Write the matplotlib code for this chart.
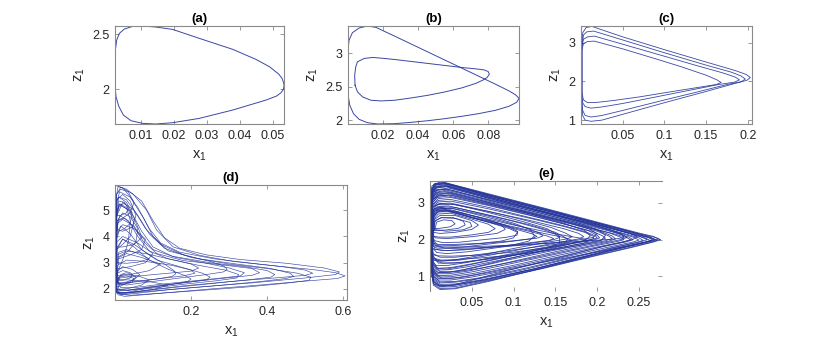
import matplotlib
matplotlib.use("Agg")
import matplotlib.pyplot as plt
from matplotlib.ticker import FuncFormatter

plt.rcParams['font.family'] = ['Liberation Sans', 'DejaVu Sans']
plt.rcParams['mathtext.default'] = 'regular'

# (a) period-1 cycle, one closed loop of (x1, z1) points
loop_a = [(0.0024, 2.0), (0.0023, 2.206), (0.0024, 2.358), (0.0028, 2.448), (0.0036, 2.509),
          (0.0051, 2.548), (0.0076, 2.573), (0.0106, 2.576), (0.0146, 2.567), (0.0197, 2.545),
          (0.0277, 2.464), (0.0378, 2.364), (0.0448, 2.273), (0.0489, 2.206), (0.0517, 2.139),
          (0.0527, 2.1), (0.0532, 2.06), (0.0533, 2.03), (0.0531, 2.0), (0.0524, 1.97), (0.0511, 1.94),
          (0.0479, 1.903), (0.0378, 1.812), (0.0277, 1.736), (0.0197, 1.697), (0.0146, 1.685),
          (0.0106, 1.691), (0.0071, 1.715), (0.0048, 1.767), (0.0034, 1.848), (0.0026, 1.933),
          (0.0024, 2.0)]

# (b) period-2 cycle, outer and inner loop
loop_b_outer = [(0.0002, 2.35), (0.0, 2.75), (0.0, 3.05), (0.0006, 3.2), (0.0025, 3.31), (0.0063, 3.38),
                (0.0111, 3.41), (0.0159, 3.39), (0.0265, 3.26), (0.0361, 3.14), (0.0457, 3.02),
                (0.0553, 2.9), (0.0649, 2.78), (0.0745, 2.66), (0.0841, 2.54), (0.0918, 2.44),
                (0.0956, 2.38), (0.0975, 2.33), (0.0962, 2.27), (0.0918, 2.21), (0.0841, 2.15),
                (0.0745, 2.1), (0.0649, 2.06), (0.0553, 2.025), (0.0457, 1.995), (0.0361, 1.97),
                (0.0265, 1.95), (0.0169, 1.945), (0.0111, 1.965), (0.0063, 2.015), (0.0031, 2.1),
                (0.001, 2.225), (0.0002, 2.35)]
loop_b_inner = [(0.004, 2.525), (0.0038, 2.675), (0.0044, 2.8), (0.0054, 2.875), (0.0092, 2.925),
                (0.014, 2.94), (0.0188, 2.93), (0.0265, 2.91), (0.0361, 2.88), (0.0457, 2.85),
                (0.0553, 2.82), (0.0649, 2.79), (0.0726, 2.77), (0.0774, 2.755), (0.0799, 2.73),
                (0.0806, 2.69), (0.0793, 2.64), (0.0768, 2.6), (0.0726, 2.55), (0.0649, 2.485),
                (0.0553, 2.425), (0.0457, 2.375), (0.0361, 2.335), (0.0265, 2.3), (0.0188, 2.29),
                (0.0131, 2.3), (0.0083, 2.35), (0.0054, 2.425), (0.004, 2.525)]

# (c) four-band cycle
loops_c = [
    [(0.001, 1.4), (0.001, 2.9), (0.002, 3.25), (0.006, 3.39), (0.013, 3.42), (0.05, 3.15), (0.1, 2.82),
     (0.15, 2.5), (0.185, 2.28), (0.198, 2.18), (0.203, 2.1), (0.199, 2.03), (0.185, 1.95), (0.15, 1.74),
     (0.1, 1.45), (0.05, 1.15), (0.025, 1.0), (0.012, 0.97), (0.005, 1.0), (0.002, 1.12), (0.001, 1.4)],
    [(0.001, 1.5), (0.001, 2.9), (0.003, 3.2), (0.007, 3.28), (0.015, 3.3), (0.05, 3.07), (0.1, 2.74),
     (0.15, 2.42), (0.18, 2.24), (0.192, 2.14), (0.197, 2.06), (0.192, 1.99), (0.175, 1.92), (0.14, 1.73),
     (0.1, 1.52), (0.05, 1.25), (0.025, 1.12), (0.012, 1.08), (0.005, 1.12), (0.002, 1.25), (0.001, 1.5)],
    [(0.001, 1.6), (0.001, 2.9), (0.003, 3.09), (0.008, 3.15), (0.016, 3.17), (0.05, 2.96), (0.1, 2.65),
     (0.14, 2.4), (0.17, 2.22), (0.185, 2.11), (0.19, 2.04), (0.184, 1.98), (0.165, 1.92), (0.13, 1.77),
     (0.09, 1.6), (0.05, 1.43), (0.025, 1.34), (0.012, 1.31), (0.005, 1.35), (0.002, 1.45), (0.001, 1.6)],
    [(0.001, 1.7), (0.001, 2.8), (0.003, 2.98), (0.008, 3.03), (0.016, 3.04), (0.05, 2.84), (0.09, 2.58),
     (0.12, 2.38), (0.15, 2.16), (0.163, 2.04), (0.168, 1.97), (0.162, 1.92), (0.145, 1.86), (0.11, 1.74),
     (0.07, 1.6), (0.04, 1.51), (0.02, 1.46), (0.008, 1.45), (0.003, 1.52), (0.001, 1.7)],
]

# (d) chaotic, large excursions plus small loops near x1 = 0
loops_d = [
    [(0.002, 2.2), (0.002, 4.5), (0.004, 5.6), (0.015, 5.88), (0.047, 5.62), (0.083, 5.0), (0.109, 4.25),
     (0.153, 3.6), (0.223, 3.28), (0.31, 3.05), (0.42, 2.88), (0.52, 2.74), (0.58, 2.62), (0.605, 2.5),
     (0.585, 2.4), (0.5, 2.3), (0.38, 2.15), (0.25, 2.0), (0.13, 1.85), (0.06, 1.76), (0.025, 1.72),
     (0.008, 1.78), (0.003, 1.95), (0.002, 2.2)],
    [(0.0, 3.5), (0.0, 5.95), (0.03, 5.8), (0.07, 5.35), (0.1, 4.6), (0.13, 3.95), (0.17, 3.55), (0.24, 3.3),
     (0.33, 3.12), (0.45, 2.98), (0.55, 2.8), (0.59, 2.65), (0.58, 2.55), (0.5, 2.42), (0.35, 2.22),
     (0.2, 2.05), (0.08, 1.9), (0.02, 1.82), (0.003, 1.9), (0.0, 3.5)],
    [(0.002, 2.5), (0.003, 5.0), (0.01, 5.5), (0.03, 5.4), (0.06, 4.8), (0.09, 4.1), (0.13, 3.55), (0.2, 3.2),
     (0.3, 2.95), (0.4, 2.78), (0.48, 2.6), (0.515, 2.45), (0.51, 2.33), (0.45, 2.22), (0.35, 2.08),
     (0.22, 1.94), (0.1, 1.82), (0.04, 1.76), (0.012, 1.8), (0.004, 2.0), (0.002, 2.5)],
    [(0.002, 1.9), (0.003, 5.5), (0.008, 5.9), (0.02, 5.85), (0.035, 5.6), (0.06, 5.1), (0.09, 4.3),
     (0.12, 3.75), (0.17, 3.4), (0.26, 3.15), (0.36, 2.98), (0.44, 2.85), (0.5, 2.72), (0.52, 2.6),
     (0.5, 2.52), (0.42, 2.42), (0.3, 2.28), (0.18, 2.12), (0.08, 1.95), (0.03, 1.85), (0.008, 1.86),
     (0.002, 1.9)],
    [(0.002, 2.1), (0.003, 5.2), (0.012, 5.7), (0.04, 5.5), (0.075, 4.7), (0.1, 4.0), (0.14, 3.45),
     (0.22, 3.15), (0.32, 2.95), (0.41, 2.78), (0.46, 2.6), (0.47, 2.48), (0.45, 2.4), (0.38, 2.28),
     (0.26, 2.12), (0.14, 1.97), (0.06, 1.84), (0.02, 1.78), (0.006, 1.85), (0.002, 2.1)],
    [(0.002, 2.3), (0.003, 4.6), (0.01, 5.2), (0.04, 5.0), (0.07, 4.2), (0.1, 3.6), (0.15, 3.25), (0.25, 3.0),
     (0.34, 2.85), (0.4, 2.7), (0.42, 2.55), (0.41, 2.45), (0.35, 2.35), (0.25, 2.2), (0.15, 2.05),
     (0.07, 1.92), (0.025, 1.85), (0.008, 1.9), (0.002, 2.3)],
    [(0.002, 2.0), (0.003, 4.0), (0.008, 4.6), (0.025, 4.7), (0.05, 4.35), (0.075, 3.8), (0.11, 3.35),
     (0.18, 3.08), (0.28, 2.92), (0.36, 2.78), (0.38, 2.62), (0.36, 2.52), (0.28, 2.4), (0.18, 2.24),
     (0.09, 2.08), (0.035, 1.96), (0.01, 1.95), (0.002, 2.0)],
    [(0.003, 2.4), (0.004, 4.9), (0.01, 5.35), (0.025, 5.3), (0.05, 4.7), (0.07, 4.0), (0.1, 3.5),
     (0.16, 3.2), (0.24, 2.98), (0.3, 2.8), (0.34, 2.62), (0.33, 2.5), (0.28, 2.42), (0.2, 2.3),
     (0.12, 2.18), (0.05, 2.05), (0.015, 2.05), (0.003, 2.4)],
    [(0.003, 2.6), (0.004, 4.2), (0.012, 4.8), (0.035, 4.6), (0.06, 4.0), (0.09, 3.45), (0.14, 3.15),
     (0.22, 2.9), (0.29, 2.72), (0.325, 2.55), (0.32, 2.42), (0.27, 2.32), (0.18, 2.18), (0.09, 2.02),
     (0.035, 1.95), (0.01, 2.0), (0.003, 2.6)],
    [(0.003, 3.0), (0.005, 4.8), (0.02, 5.3), (0.05, 5.0), (0.08, 4.3), (0.12, 3.7), (0.18, 3.3),
     (0.25, 3.05), (0.285, 2.88), (0.295, 2.75), (0.285, 2.65), (0.24, 2.55), (0.16, 2.4), (0.08, 2.25),
     (0.03, 2.15), (0.01, 2.2), (0.003, 3.0)],
    [(0.003, 2.2), (0.004, 3.9), (0.015, 4.4), (0.04, 4.1), (0.07, 3.5), (0.11, 3.1), (0.17, 2.85),
     (0.23, 2.6), (0.25, 2.45), (0.24, 2.35), (0.19, 2.25), (0.12, 2.12), (0.06, 2.0), (0.02, 1.93),
     (0.005, 2.0), (0.003, 2.2)],
    [(0.003, 2.0), (0.005, 3.5), (0.02, 3.9), (0.05, 3.6), (0.09, 3.1), (0.14, 2.75), (0.185, 2.5),
     (0.2, 2.38), (0.19, 2.28), (0.15, 2.18), (0.09, 2.05), (0.04, 1.9), (0.012, 1.82), (0.004, 1.9),
     (0.003, 2.0)],
    [(0.004, 2.4), (0.006, 3.6), (0.02, 3.9), (0.05, 3.7), (0.09, 3.3), (0.13, 2.95), (0.155, 2.7),
     (0.16, 2.58), (0.15, 2.48), (0.11, 2.38), (0.06, 2.28), (0.025, 2.22), (0.008, 2.25), (0.004, 2.4)],
    [(0.003, 2.4), (0.005, 3.3), (0.03, 3.45), (0.08, 3.35), (0.14, 3.15), (0.2, 2.95), (0.22, 2.8),
     (0.2, 2.68), (0.14, 2.6), (0.08, 2.52), (0.03, 2.45), (0.003, 2.4)],
    [(0.004, 2.2), (0.006, 2.9), (0.03, 3.1), (0.08, 3.05), (0.15, 2.9), (0.2, 2.72), (0.21, 2.6),
     (0.18, 2.5), (0.12, 2.4), (0.06, 2.3), (0.02, 2.22), (0.004, 2.2)],
    [(0.002, 4.0), (0.002, 5.3), (0.01, 5.5), (0.03, 5.3), (0.045, 4.9), (0.04, 4.5), (0.025, 4.3),
     (0.01, 4.2), (0.002, 4.0)],
    [(0.003, 3.5), (0.005, 5.0), (0.015, 5.2), (0.035, 5.0), (0.05, 4.6), (0.04, 4.0), (0.02, 3.7),
     (0.008, 3.55), (0.003, 3.5)],
    [(0.002, 4.4), (0.004, 5.4), (0.02, 5.6), (0.04, 5.35), (0.055, 4.8), (0.045, 4.35), (0.02, 4.2),
     (0.006, 4.25), (0.002, 4.4)],
    [(0.002, 2.6), (0.003, 4.9), (0.012, 5.25), (0.03, 5.1), (0.04, 4.6), (0.035, 3.8), (0.02, 3.1),
     (0.008, 2.7), (0.002, 2.6)],
    [(0.004, 3.2), (0.006, 4.6), (0.02, 4.9), (0.04, 4.75), (0.06, 4.3), (0.055, 3.8), (0.035, 3.45),
     (0.012, 3.25), (0.004, 3.2)],
    [(0.003, 4.6), (0.004, 5.6), (0.015, 5.8), (0.035, 5.7), (0.05, 5.3), (0.04, 4.9), (0.02, 4.7),
     (0.003, 4.6)],
    [(0.005, 4.8), (0.01, 5.2), (0.025, 5.25), (0.035, 5.1), (0.03, 4.9), (0.015, 4.8), (0.005, 4.8)],
    [(0.003, 3.6), (0.006, 4.5), (0.02, 4.65), (0.05, 4.4), (0.07, 3.95), (0.05, 3.7), (0.02, 3.6),
     (0.003, 3.6)],
    [(0.003, 2.8), (0.005, 3.8), (0.02, 4.0), (0.06, 3.75), (0.1, 3.35), (0.08, 3.0), (0.04, 2.85),
     (0.01, 2.78), (0.003, 2.8)],
    [(0.003, 3.1), (0.005, 4.2), (0.02, 4.45), (0.05, 4.3), (0.08, 3.9), (0.07, 3.5), (0.04, 3.3),
     (0.01, 3.15), (0.003, 3.1)],
    [(0.006, 3.0), (0.01, 3.4), (0.03, 3.5), (0.06, 3.35), (0.09, 3.15), (0.06, 3.02), (0.03, 2.98),
     (0.006, 3.0)],
    [(0.005, 2.5), (0.01, 3.2), (0.03, 3.35), (0.07, 3.2), (0.12, 2.95), (0.09, 2.7), (0.04, 2.55),
     (0.005, 2.5)],
    [(0.005, 2.3), (0.008, 2.7), (0.02, 2.85), (0.045, 2.75), (0.065, 2.55), (0.05, 2.35), (0.025, 2.25),
     (0.01, 2.2), (0.005, 2.3)],
    [(0.004, 2.1), (0.006, 2.6), (0.02, 2.7), (0.04, 2.62), (0.055, 2.45), (0.04, 2.28), (0.02, 2.15),
     (0.008, 2.08), (0.004, 2.1)],
    [(0.003, 2.0), (0.005, 2.4), (0.02, 2.55), (0.06, 2.5), (0.09, 2.35), (0.07, 2.15), (0.035, 2.02),
     (0.01, 1.98), (0.003, 2.0)],
    [(0.004, 2.15), (0.01, 2.45), (0.03, 2.5), (0.05, 2.4), (0.045, 2.25), (0.025, 2.18), (0.004, 2.15)],
    [(0.003, 1.85), (0.004, 2.3), (0.03, 2.35), (0.09, 2.28), (0.14, 2.15), (0.1, 1.98), (0.04, 1.86),
     (0.003, 1.85)],
    [(0.01, 2.35), (0.015, 2.55), (0.03, 2.62), (0.045, 2.55), (0.04, 2.42), (0.025, 2.36), (0.01, 2.35)],
]

# (e) chaotic attractor, nested loops
loops_e = [
    [(0.002, 1.2), (0.002, 3.3), (0.005, 3.5), (0.015, 3.56), (0.07, 3.23), (0.14, 2.82), (0.2, 2.46),
     (0.25, 2.16), (0.268, 2.07), (0.276, 2.0), (0.268, 1.94), (0.24, 1.78), (0.2, 1.57), (0.14, 1.24),
     (0.07, 0.88), (0.03, 0.68), (0.012, 0.67), (0.004, 0.8), (0.002, 1.2)],
    [(0.002, 1.1), (0.002, 3.35), (0.005, 3.52), (0.014, 3.58), (0.07, 3.25), (0.14, 2.84), (0.2, 2.48),
     (0.25, 2.18), (0.267, 2.09), (0.274, 2.02), (0.266, 1.96), (0.235, 1.8), (0.19, 1.55), (0.13, 1.2),
     (0.07, 0.86), (0.03, 0.66), (0.012, 0.64), (0.004, 0.76), (0.002, 1.1)],
    [(0.002, 1.3), (0.002, 3.25), (0.006, 3.45), (0.018, 3.5), (0.07, 3.19), (0.14, 2.79), (0.2, 2.43),
     (0.25, 2.13), (0.265, 2.05), (0.272, 1.98), (0.263, 1.92), (0.235, 1.77), (0.19, 1.53), (0.13, 1.2),
     (0.07, 0.9), (0.03, 0.72), (0.012, 0.71), (0.004, 0.85), (0.002, 1.3)],
    [(0.002, 1.9), (0.002, 3.45), (0.006, 3.53), (0.018, 3.55), (0.07, 3.23), (0.13, 2.88), (0.19, 2.52),
     (0.24, 2.22), (0.262, 2.08), (0.27, 2.0), (0.262, 1.95), (0.235, 1.82), (0.19, 1.62), (0.13, 1.36),
     (0.07, 1.1), (0.035, 0.96), (0.014, 0.95), (0.004, 1.1), (0.002, 1.9)],
    [(0.002, 1.2), (0.002, 3.4), (0.006, 3.5), (0.016, 3.54), (0.07, 3.22), (0.14, 2.8), (0.2, 2.45),
     (0.245, 2.18), (0.262, 2.06), (0.266, 1.99), (0.256, 1.93), (0.225, 1.78), (0.18, 1.52), (0.12, 1.18),
     (0.065, 0.9), (0.03, 0.76), (0.012, 0.75), (0.004, 0.88), (0.002, 1.2)],
    [(0.002, 1.4), (0.003, 3.3), (0.006, 3.48), (0.017, 3.53), (0.07, 3.2), (0.13, 2.84), (0.19, 2.48),
     (0.235, 2.2), (0.252, 2.08), (0.26, 2.0), (0.252, 1.94), (0.22, 1.78), (0.17, 1.5), (0.11, 1.17),
     (0.06, 0.94), (0.03, 0.84), (0.012, 0.82), (0.004, 0.95), (0.002, 1.4)],
    [(0.002, 1.5), (0.003, 3.2), (0.007, 3.4), (0.02, 3.46), (0.07, 3.16), (0.14, 2.75), (0.2, 2.4),
     (0.24, 2.16), (0.258, 2.04), (0.264, 1.97), (0.255, 1.91), (0.225, 1.76), (0.18, 1.5), (0.12, 1.18),
     (0.06, 0.9), (0.03, 0.79), (0.012, 0.78), (0.004, 0.92), (0.002, 1.5)],
    [(0.002, 1.5), (0.003, 3.25), (0.007, 3.43), (0.018, 3.48), (0.07, 3.17), (0.13, 2.8), (0.18, 2.5),
     (0.225, 2.2), (0.243, 2.07), (0.25, 1.99), (0.242, 1.93), (0.21, 1.78), (0.16, 1.52), (0.1, 1.2),
     (0.05, 0.98), (0.025, 0.9), (0.01, 0.9), (0.003, 1.02), (0.002, 1.5)],
    [(0.002, 1.0), (0.003, 3.4), (0.007, 3.5), (0.02, 3.52), (0.07, 3.2), (0.13, 2.84), (0.18, 2.55),
     (0.22, 2.3), (0.24, 2.16), (0.248, 2.08), (0.242, 2.0), (0.215, 1.86), (0.17, 1.6), (0.12, 1.32),
     (0.07, 1.02), (0.035, 0.8), (0.015, 0.72), (0.005, 0.78), (0.002, 1.0)],
    [(0.002, 1.9), (0.003, 3.3), (0.008, 3.42), (0.02, 3.44), (0.07, 3.13), (0.12, 2.83), (0.17, 2.53),
     (0.21, 2.28), (0.23, 2.14), (0.236, 2.06), (0.228, 2.0), (0.2, 1.87), (0.16, 1.68), (0.11, 1.44),
     (0.06, 1.22), (0.03, 1.12), (0.012, 1.13), (0.004, 1.3), (0.002, 1.9)],
    [(0.002, 2.0), (0.003, 3.35), (0.008, 3.45), (0.02, 3.46), (0.07, 3.15), (0.13, 2.8), (0.18, 2.5),
     (0.215, 2.28), (0.23, 2.14), (0.232, 2.06), (0.222, 2.02), (0.19, 1.97), (0.14, 1.9), (0.09, 1.84),
     (0.04, 1.8), (0.015, 1.8), (0.004, 1.86), (0.002, 2.0)],
    [(0.002, 1.6), (0.003, 3.15), (0.008, 3.36), (0.022, 3.41), (0.07, 3.13), (0.14, 2.72), (0.19, 2.42),
     (0.235, 2.15), (0.25, 2.05), (0.255, 1.98), (0.246, 1.92), (0.215, 1.77), (0.17, 1.52), (0.11, 1.2),
     (0.06, 0.96), (0.03, 0.86), (0.012, 0.85), (0.004, 1.0), (0.002, 1.6)],
    [(0.002, 1.3), (0.003, 3.2), (0.008, 3.34), (0.02, 3.38), (0.07, 3.1), (0.14, 2.72), (0.2, 2.4),
     (0.245, 2.14), (0.262, 2.05), (0.268, 2.0), (0.26, 1.94), (0.23, 1.78), (0.185, 1.54), (0.125, 1.2),
     (0.065, 0.9), (0.03, 0.76), (0.012, 0.74), (0.004, 0.86), (0.002, 1.3)],
    [(0.002, 1.45), (0.003, 3.28), (0.008, 3.36), (0.022, 3.37), (0.07, 3.08), (0.13, 2.74), (0.175, 2.47),
     (0.2, 2.28), (0.21, 2.12), (0.205, 1.98), (0.18, 1.85), (0.14, 1.7), (0.1, 1.58), (0.06, 1.5),
     (0.025, 1.45), (0.008, 1.44), (0.002, 1.45)],
    [(0.002, 1.5), (0.003, 3.1), (0.008, 3.3), (0.02, 3.35), (0.07, 3.08), (0.13, 2.73), (0.18, 2.44),
     (0.22, 2.2), (0.238, 2.07), (0.243, 2.0), (0.235, 1.94), (0.205, 1.8), (0.16, 1.56), (0.1, 1.26),
     (0.05, 1.03), (0.025, 0.94), (0.01, 0.94), (0.003, 1.08), (0.002, 1.5)],
    [(0.002, 1.6), (0.003, 3.12), (0.008, 3.28), (0.02, 3.32), (0.07, 3.05), (0.13, 2.7), (0.175, 2.44),
     (0.205, 2.22), (0.218, 2.1), (0.222, 2.02), (0.214, 1.96), (0.185, 1.84), (0.14, 1.62), (0.09, 1.36),
     (0.045, 1.14), (0.022, 1.07), (0.008, 1.07), (0.002, 1.2), (0.002, 1.6)],
    [(0.002, 1.85), (0.003, 3.18), (0.01, 3.27), (0.025, 3.28), (0.07, 3.02), (0.12, 2.73), (0.16, 2.5),
     (0.19, 2.3), (0.2, 2.16), (0.195, 2.06), (0.175, 1.98), (0.14, 1.9), (0.1, 1.83), (0.06, 1.78),
     (0.025, 1.76), (0.008, 1.77), (0.002, 1.85)],
    [(0.002, 1.7), (0.003, 3.05), (0.009, 3.24), (0.022, 3.28), (0.07, 3.02), (0.13, 2.68), (0.18, 2.4),
     (0.215, 2.18), (0.228, 2.07), (0.232, 2.0), (0.224, 1.95), (0.195, 1.82), (0.15, 1.6), (0.1, 1.36),
     (0.05, 1.12), (0.025, 1.03), (0.01, 1.02), (0.003, 1.15), (0.002, 1.7)],
    [(0.002, 1.5), (0.003, 3.08), (0.009, 3.22), (0.022, 3.26), (0.07, 3.0), (0.13, 2.66), (0.18, 2.38),
     (0.22, 2.16), (0.235, 2.06), (0.24, 2.0), (0.232, 1.94), (0.2, 1.8), (0.155, 1.58), (0.1, 1.3),
     (0.05, 1.07), (0.025, 0.99), (0.01, 0.98), (0.003, 1.1), (0.002, 1.5)],
    [(0.002, 1.6), (0.003, 3.0), (0.009, 3.18), (0.022, 3.22), (0.07, 2.97), (0.12, 2.7), (0.17, 2.42),
     (0.2, 2.23), (0.214, 2.1), (0.218, 2.03), (0.21, 1.97), (0.18, 1.85), (0.14, 1.67), (0.09, 1.43),
     (0.05, 1.22), (0.025, 1.12), (0.01, 1.1), (0.003, 1.22), (0.002, 1.6)],
    [(0.002, 1.3), (0.003, 3.1), (0.01, 3.2), (0.025, 3.22), (0.07, 2.98), (0.12, 2.7), (0.16, 2.45),
     (0.185, 2.25), (0.192, 2.1), (0.185, 1.98), (0.16, 1.84), (0.12, 1.62), (0.08, 1.4), (0.04, 1.18),
     (0.02, 1.1), (0.006, 1.12), (0.002, 1.3)],
    [(0.002, 1.6), (0.003, 3.02), (0.009, 3.15), (0.022, 3.19), (0.07, 2.95), (0.12, 2.67), (0.165, 2.4),
     (0.195, 2.22), (0.206, 2.11), (0.21, 2.04), (0.203, 1.98), (0.175, 1.87), (0.135, 1.68), (0.09, 1.47),
     (0.045, 1.26), (0.022, 1.18), (0.008, 1.17), (0.002, 1.3), (0.002, 1.6)],
    [(0.002, 1.8), (0.003, 2.95), (0.01, 3.12), (0.025, 3.15), (0.07, 2.93), (0.12, 2.66), (0.16, 2.43),
     (0.19, 2.24), (0.2, 2.12), (0.203, 2.05), (0.196, 1.99), (0.17, 1.89), (0.13, 1.72), (0.09, 1.53),
     (0.05, 1.34), (0.025, 1.24), (0.01, 1.22), (0.003, 1.33), (0.002, 1.8)],
    [(0.002, 1.7), (0.003, 2.95), (0.01, 3.07), (0.024, 3.1), (0.07, 2.88), (0.12, 2.6), (0.16, 2.38),
     (0.188, 2.2), (0.198, 2.1), (0.2, 2.05), (0.193, 2.0), (0.165, 1.9), (0.125, 1.74), (0.085, 1.56),
     (0.045, 1.38), (0.022, 1.3), (0.008, 1.29), (0.002, 1.4), (0.002, 1.7)],
    [(0.002, 1.5), (0.003, 2.9), (0.01, 3.03), (0.025, 3.05), (0.07, 2.84), (0.12, 2.58), (0.16, 2.36),
     (0.185, 2.2), (0.195, 2.1), (0.196, 2.03), (0.188, 1.98), (0.16, 1.86), (0.12, 1.67), (0.08, 1.47),
     (0.04, 1.28), (0.02, 1.2), (0.008, 1.22), (0.002, 1.5)],
    [(0.002, 1.8), (0.003, 2.88), (0.01, 2.98), (0.024, 3.0), (0.07, 2.77), (0.11, 2.55), (0.145, 2.33),
     (0.162, 2.18), (0.17, 2.08), (0.164, 2.02), (0.14, 1.93), (0.1, 1.76), (0.06, 1.57), (0.03, 1.45),
     (0.012, 1.41), (0.003, 1.5), (0.002, 1.8)],
    [(0.002, 1.7), (0.003, 2.85), (0.01, 2.96), (0.025, 2.97), (0.07, 2.77), (0.12, 2.52), (0.16, 2.3),
     (0.178, 2.17), (0.184, 2.08), (0.178, 2.02), (0.15, 1.91), (0.11, 1.74), (0.07, 1.57), (0.035, 1.44),
     (0.015, 1.42), (0.005, 1.5), (0.002, 1.7)],
    [(0.002, 1.6), (0.003, 2.9), (0.012, 2.98), (0.03, 2.96), (0.07, 2.74), (0.11, 2.5), (0.14, 2.3),
     (0.155, 2.1), (0.155, 1.9), (0.14, 1.78), (0.1, 1.6), (0.06, 1.45), (0.03, 1.36), (0.01, 1.36),
     (0.002, 1.6)],
    [(0.003, 1.6), (0.004, 2.82), (0.012, 2.9), (0.03, 2.88), (0.08, 2.62), (0.12, 2.4), (0.15, 2.2),
     (0.165, 2.02), (0.16, 1.88), (0.14, 1.78), (0.1, 1.66), (0.06, 1.58), (0.025, 1.55), (0.008, 1.56),
     (0.003, 1.6)],
    [(0.002, 1.95), (0.003, 2.82), (0.01, 2.91), (0.022, 2.92), (0.06, 2.72), (0.1, 2.5), (0.135, 2.28),
     (0.15, 2.15), (0.155, 2.06), (0.148, 2.0), (0.125, 1.93), (0.09, 1.84), (0.05, 1.75), (0.02, 1.7),
     (0.006, 1.74), (0.002, 1.95)],
    [(0.002, 1.7), (0.002, 2.7), (0.005, 2.85), (0.014, 2.88), (0.05, 2.66), (0.1, 2.4), (0.15, 2.16),
     (0.18, 2.04), (0.19, 1.97), (0.184, 1.9), (0.16, 1.8), (0.12, 1.64), (0.08, 1.5), (0.04, 1.38),
     (0.015, 1.36), (0.004, 1.45), (0.002, 1.7)],
    [(0.003, 2.0), (0.004, 2.75), (0.012, 2.85), (0.025, 2.86), (0.06, 2.66), (0.095, 2.45), (0.12, 2.28),
     (0.132, 2.17), (0.135, 2.1), (0.128, 2.04), (0.1, 1.97), (0.065, 1.9), (0.03, 1.84), (0.01, 1.83),
     (0.003, 2.0)],
    [(0.003, 1.75), (0.004, 2.8), (0.012, 2.87), (0.03, 2.84), (0.07, 2.64), (0.1, 2.45), (0.12, 2.28),
     (0.125, 2.1), (0.118, 1.96), (0.1, 1.86), (0.07, 1.78), (0.04, 1.72), (0.015, 1.7), (0.003, 1.75)],
    [(0.002, 1.9), (0.002, 2.6), (0.005, 2.8), (0.015, 2.85), (0.05, 2.62), (0.09, 2.4), (0.13, 2.2),
     (0.16, 2.06), (0.17, 1.98), (0.165, 1.92), (0.14, 1.84), (0.1, 1.72), (0.06, 1.6), (0.03, 1.52),
     (0.012, 1.52), (0.004, 1.62), (0.002, 1.9)],
    [(0.002, 1.8), (0.003, 2.6), (0.006, 2.78), (0.016, 2.83), (0.05, 2.6), (0.09, 2.38), (0.12, 2.22),
     (0.14, 2.1), (0.148, 2.03), (0.143, 1.97), (0.12, 1.9), (0.08, 1.78), (0.045, 1.67), (0.02, 1.62),
     (0.008, 1.65), (0.002, 1.8)],
    [(0.003, 2.0), (0.004, 2.65), (0.008, 2.78), (0.018, 2.81), (0.05, 2.6), (0.08, 2.42), (0.105, 2.27),
     (0.122, 2.16), (0.128, 2.09), (0.122, 2.03), (0.1, 1.96), (0.07, 1.88), (0.04, 1.8), (0.018, 1.77),
     (0.007, 1.82), (0.003, 2.0)],
    [(0.004, 1.9), (0.005, 2.7), (0.012, 2.8), (0.03, 2.78), (0.06, 2.6), (0.09, 2.4), (0.105, 2.22),
     (0.1, 2.05), (0.085, 1.96), (0.06, 1.9), (0.03, 1.87), (0.01, 1.87), (0.004, 1.9)],
    [(0.003, 2.05), (0.004, 2.6), (0.009, 2.75), (0.02, 2.78), (0.05, 2.6), (0.075, 2.44), (0.095, 2.3),
     (0.105, 2.2), (0.104, 2.12), (0.09, 2.06), (0.06, 1.99), (0.035, 1.93), (0.015, 1.92), (0.006, 1.97),
     (0.003, 2.05)],
    [(0.003, 2.15), (0.004, 2.62), (0.01, 2.76), (0.03, 2.76), (0.06, 2.6), (0.085, 2.42), (0.09, 2.28),
     (0.08, 2.17), (0.05, 2.08), (0.02, 2.03), (0.006, 2.05), (0.003, 2.15)],
    [(0.003, 2.1), (0.004, 2.55), (0.01, 2.7), (0.025, 2.72), (0.05, 2.56), (0.07, 2.42), (0.078, 2.3),
     (0.07, 2.2), (0.05, 2.13), (0.025, 2.07), (0.01, 2.07), (0.003, 2.1)],
    [(0.004, 2.2), (0.005, 2.55), (0.012, 2.66), (0.03, 2.66), (0.05, 2.52), (0.058, 2.4), (0.05, 2.28),
     (0.03, 2.2), (0.012, 2.17), (0.004, 2.2)],
    [(0.005, 2.25), (0.006, 2.5), (0.013, 2.6), (0.028, 2.6), (0.04, 2.5), (0.042, 2.4), (0.034, 2.31),
     (0.018, 2.26), (0.005, 2.25)],
    [(0.004, 2.28), (0.006, 2.52), (0.014, 2.6), (0.03, 2.58), (0.048, 2.47), (0.05, 2.36), (0.04, 2.27),
     (0.02, 2.23), (0.004, 2.28)],
    [(0.006, 2.3), (0.008, 2.48), (0.016, 2.54), (0.026, 2.52), (0.03, 2.43), (0.024, 2.35), (0.012, 2.31),
     (0.006, 2.3)],
]

titles = ["(a)", "(b)", "(c)", "(d)", "(e)"]
xticks_all = [[0.01, 0.02, 0.03, 0.04, 0.05], [0.02, 0.04, 0.06, 0.08], [0.05, 0.1, 0.15, 0.2],
              [0.2, 0.4, 0.6], [0.05, 0.1, 0.15, 0.2, 0.25]]
yticks_all = [[2, 2.5], [2, 2.5, 3], [1, 2, 3], [2, 3, 4, 5], [1, 2, 3]]
xlims = [(0.0023, 0.0533), (0.0, 0.0975), (0.0, 0.205), (0.0, 0.61), (0.0, 0.2776)]
ylims = [(1.685, 2.576), (1.945, 3.41), (0.9, 3.43), (1.58, 5.96), (0.6, 3.6)]

line_color = '#24349a'
axis_color = '#8a8a8a'
text_color = '#262626'

fig = plt.figure(figsize=(8.3, 3.46), dpi=100)
positions = [[0.1386, 0.6416, 0.2036, 0.2832],
             [0.4193, 0.6416, 0.2060, 0.2832],
             [0.7000, 0.6416, 0.2060, 0.2832],
             [0.1386, 0.1329, 0.2795, 0.3324],
             [0.5181, 0.1590, 0.2795, 0.3179]]
groups = [[loop_a], [loop_b_outer, loop_b_inner], loops_c, loops_d, loops_e]
widths = [0.7, 0.7, 0.6, 0.45, 0.6]

fmt = FuncFormatter(lambda v, p: "%g" % v)
for i in range(5):
    ax = fig.add_axes(positions[i])
    for loop in groups[i]:
        xs = [p[0] for p in loop]
        zs = [p[1] for p in loop]
        ax.plot(xs, zs, color=line_color, lw=widths[i], alpha=0.9)
    ax.set_xlim(xlims[i])
    ax.set_ylim(ylims[i])
    ax.set_xticks(xticks_all[i])
    ax.set_yticks(yticks_all[i])
    ax.xaxis.set_major_formatter(fmt)
    ax.yaxis.set_major_formatter(fmt)
    ax.tick_params(direction='in', top=True, right=True, length=3, width=0.6,
                   color=axis_color, labelcolor=text_color, labelsize=9, pad=4)
    for s in ax.spines.values():
        s.set_color(axis_color)
        s.set_linewidth(0.8)
    ax.set_title(titles[i], fontsize=9.5, fontweight='bold', pad=3)
    ax.set_xlabel('$x_1$', fontsize=10.5, color=text_color, labelpad=5)
    ax.set_ylabel('$z_1$', fontsize=10.5, color=text_color, labelpad=4)

# panel (e) shows only its top and left box edges
fig.axes[4].spines['bottom'].set_visible(False)
fig.axes[4].spines['right'].set_visible(False)

fig.savefig('out.png', dpi=100)
